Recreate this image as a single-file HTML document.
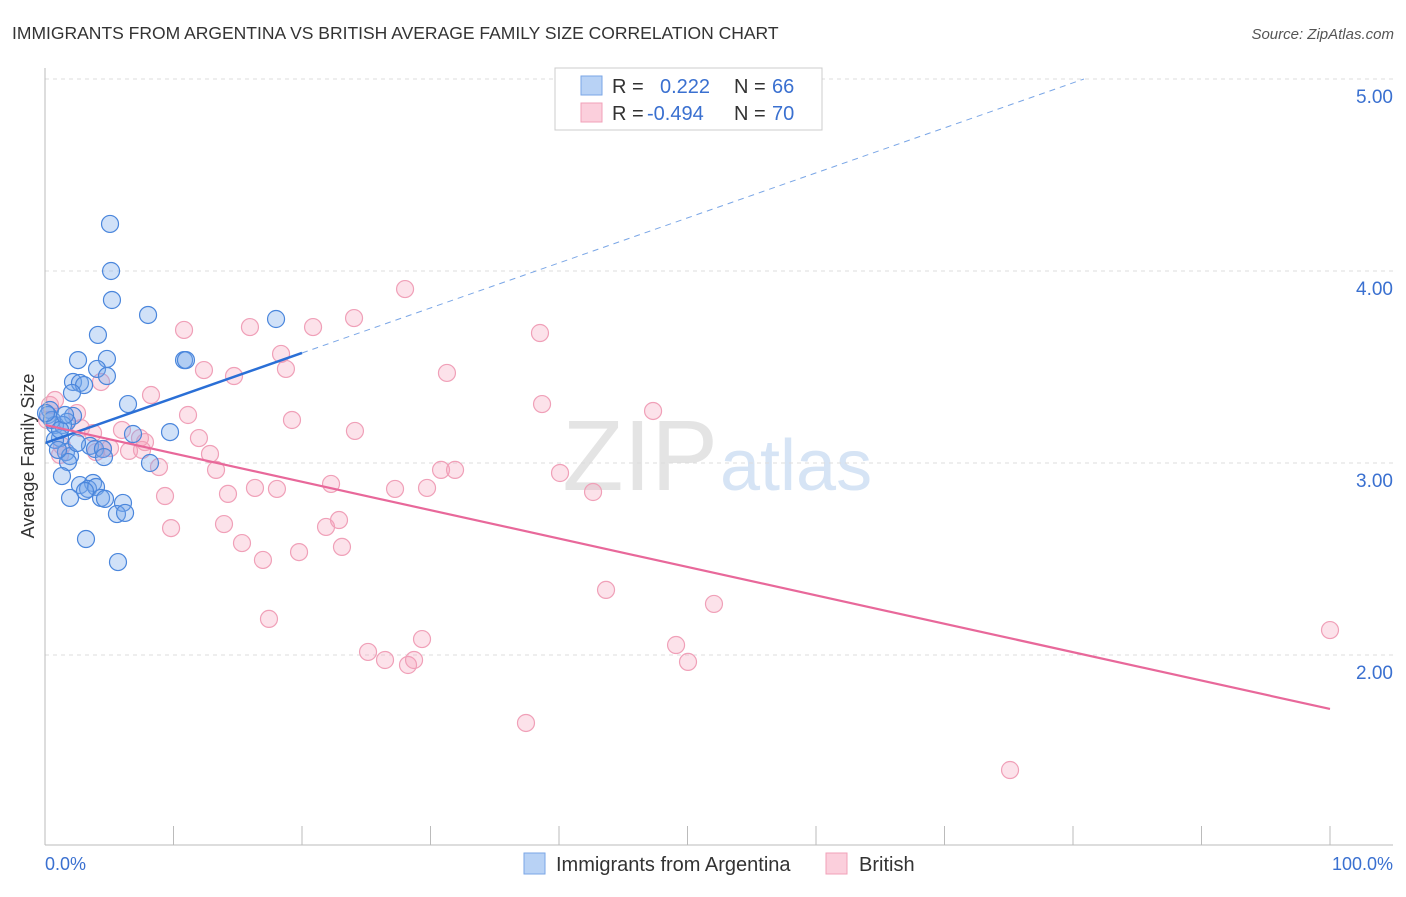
<!DOCTYPE html>
<html><head><meta charset="utf-8"><style>
body{margin:0;background:#fff;font-family:"Liberation Sans",sans-serif}
svg text{font-family:"Liberation Sans",sans-serif}
</style></head><body>
<svg id="c" width="1406" height="892">
<text x="12" y="39" font-size="17.5" fill="#333">IMMIGRANTS FROM ARGENTINA VS BRITISH AVERAGE FAMILY SIZE CORRELATION CHART</text>
<text x="1394" y="39" font-size="15" fill="#555" text-anchor="end" font-style="italic">Source: ZipAtlas.com</text>
<text x="718" y="490" font-size="100" fill="#e4e4e4" text-anchor="end" font-family="Liberation Serif">ZIP</text>
<text x="720" y="490" font-size="72" fill="#d6e4f5">atlas</text>
<g id="grid"></g><g id="pts"></g><g id="lines"></g>
<line x1="45" y1="68" x2="45" y2="845" stroke="#bbb"/>
<line x1="45" y1="845" x2="1393" y2="845" stroke="#bbb"/>
<text x="34" y="456" font-size="18" fill="#333" text-anchor="middle" transform="rotate(-90 34 456)">Average Family Size</text>
<text x="45" y="870" font-size="18" fill="#3a70d0">0.0%</text>
<text x="1393" y="870" font-size="18" fill="#3a70d0" text-anchor="end">100.0%</text>
<g>
<rect x="555" y="68" width="267" height="62" fill="#fff" stroke="#ccc"/>
<rect x="581" y="76" width="21" height="19" fill="#b8d2f5" stroke="#7aa6e6"/>
<rect x="581" y="103" width="21" height="19" fill="#fbcfdc" stroke="#f2a0b8"/>
<text x="612" y="93" font-size="20" fill="#333">R = </text><text x="660" y="93" font-size="20" fill="#3a70d0">0.222</text>
<text x="734" y="93" font-size="20" fill="#333">N = </text><text x="772" y="93" font-size="20" fill="#3a70d0">66</text>
<text x="612" y="120" font-size="20" fill="#333">R = </text><text x="647" y="120" font-size="20" fill="#3a70d0">-0.494</text>
<text x="734" y="120" font-size="20" fill="#333">N = </text><text x="772" y="120" font-size="20" fill="#3a70d0">70</text>
</g>
<g><rect x="524" y="853" width="21" height="21" fill="#b8d2f5" stroke="#7aa6e6"/><text x="556" y="871" font-size="20" fill="#333">Immigrants from Argentina</text></g>
<g><rect x="826" y="853" width="21" height="21" fill="#fbcfdc" stroke="#f2a0b8"/><text x="859" y="871" font-size="20" fill="#333">British</text></g>
</svg>
<script>
const yTicks=[2,3,4,5];
const yTickLabels=["2.00","3.00","4.00","5.00"];
const xTicks=[0,10,20,30,40,50,60,70,80,90,100];
const blueX=[5.06,5.14,5.21,8.02,4.12,17.98,2.57,4.82,10.82,10.97,4.05,4.82,2.18,2.72,3.04,2.1,6.46,2.18,1.71,0.39,0.23,0.78,1.4,1.17,6.85,9.73,3.5,3.89,4.51,1.63,1.95,4.59,1.79,8.17,1.32,2.72,3.74,3.35,3.97,3.11,1.95,4.36,4.67,6.07,5.6,6.23,3.19,5.68,0.78,0.54,1.17,2.49,1.01,0.08,1.56];
const blueY=[4.245,4.0,3.849,3.771,3.667,3.75,3.536,3.542,3.536,3.536,3.49,3.453,3.422,3.417,3.406,3.365,3.307,3.245,3.214,3.276,3.25,3.198,3.198,3.13,3.151,3.161,3.089,3.073,3.073,3.057,3.036,3.031,3.005,3.0,2.932,2.885,2.896,2.865,2.875,2.854,2.818,2.818,2.813,2.792,2.734,2.74,2.604,2.484,3.12,3.224,3.172,3.104,3.068,3.26,3.25];
const pinkX=[28.02,38.52,24.05,20.86,15.95,10.82,18.37,18.75,31.28,14.71,12.37,8.25,38.68,47.32,4.36,2.49,11.13,19.22,24.12,7.39,2.8,11.98,5.99,3.74,7.78,1.32,12.84,7.55,3.97,4.51,6.54,8.87,13.31,30.82,31.91,40.08,22.26,16.34,18.05,14.24,27.24,29.73,42.65,9.34,9.81,13.93,21.87,22.88,15.33,23.11,19.77,16.96,43.66,52.06,17.43,29.34,25.14,26.46,28.25,28.72,49.11,50.04,37.43,75.1,100,0.39,1.17,5.06,0.16,0.78];
const pinkY=[3.906,3.677,3.755,3.708,3.708,3.693,3.568,3.49,3.469,3.453,3.484,3.354,3.307,3.271,3.422,3.26,3.25,3.224,3.167,3.13,3.182,3.13,3.172,3.156,3.109,3.089,3.047,3.068,3.057,3.073,3.063,2.979,2.964,2.964,2.964,2.948,2.891,2.87,2.865,2.839,2.865,2.87,2.849,2.828,2.661,2.682,2.667,2.703,2.583,2.563,2.536,2.495,2.339,2.266,2.188,2.083,2.016,1.974,1.948,1.974,2.052,1.964,1.646,1.401,2.13,3.302,3.042,3.078,3.224,3.328];
const blueTrend=[3.104,0.02345];
const pinkTrend=[3.198,-0.01479];
const X=v=>45+v*12.85, Y=v=>79+(5-v)*192;
const NS="http://www.w3.org/2000/svg";
function mk(t,a,p){const e=document.createElementNS(NS,t);for(const k in a)e.setAttribute(k,a[k]);p.appendChild(e);return e;}
const grid=document.getElementById('grid'),pts=document.getElementById('pts'),lines=document.getElementById('lines');
yTicks.forEach((v,i)=>{
 const l=mk('line',{x1:45,x2:1393,y1:Y(v),y2:Y(v),stroke:'#ddd','stroke-dasharray':'4,4'},grid);
 
 
 const t=mk('text',{x:1393,y:Y(v)+24,'font-size':19,fill:'#3a70d0','text-anchor':'end'},grid);
 t.textContent=yTickLabels[i];
 
 
});
xTicks.forEach(v=>{
 const l=mk('line',{x1:X(v),x2:X(v),y1:826,y2:845,stroke:'#bbb'},grid);
 
 
});
pinkX.forEach((v,i)=>{
 const c=mk('circle',{cx:X(v),cy:Y(pinkY[i]),r:8.5,fill:'rgba(246,160,186,0.3)',stroke:'#f0a0b8','stroke-width':1.2},pts);
 
 
});
blueX.forEach((v,i)=>{
 const c=mk('circle',{cx:X(v),cy:Y(blueY[i]),r:8.5,fill:'rgba(120,168,235,0.35)',stroke:'#4a86dc','stroke-width':1.2},pts);
 
 
});
const bl=mk('line',{x1:X(0),y1:Y(blueTrend[0]),x2:X(20),y2:Y(blueTrend[0]+blueTrend[1]*20),stroke:'#2a6fd6','stroke-width':2.5},lines);


const xe=(5-blueTrend[0])/blueTrend[1];
const bd=mk('line',{x1:X(20),y1:Y(blueTrend[0]+blueTrend[1]*20),x2:X(xe),y2:Y(5),stroke:'#7aa6e6','stroke-width':1,'stroke-dasharray':'6,5'},lines);


const pl=mk('line',{x1:X(0),y1:Y(pinkTrend[0]),x2:X(100),y2:Y(pinkTrend[0]+pinkTrend[1]*100),stroke:'#e8689a','stroke-width':2.2},lines);


</script>
</body></html>
